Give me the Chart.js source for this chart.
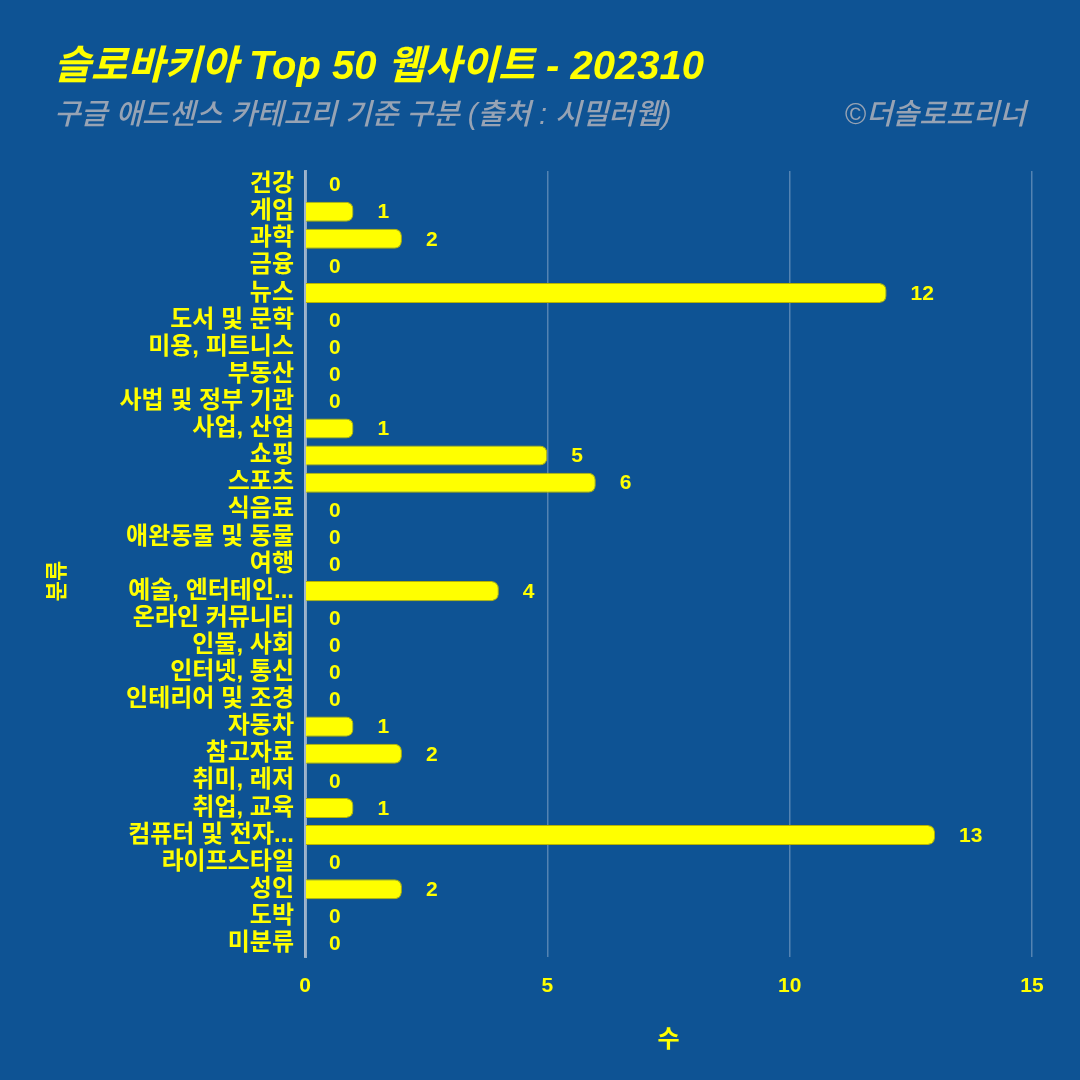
<!DOCTYPE html>
<html>
<head>
<meta charset="utf-8">
<script src="https://cdn.jsdelivr.net/npm/chart.js@4.4.1/dist/chart.umd.min.js"></script>
<style>
  html, body { margin: 0; padding: 0; background: #0e5394; }
  #wrap { width: 1080px; height: 1080px; }
</style>
</head>
<body>
<div id="wrap"><canvas id="c" width="1080" height="1080"></canvas></div>
<script>
const titleText = "슬로바키아 Top 50 웹사이트 - 202310";
const subtitleText = "구글 애드센스 카테고리 기준 구분 (출처 : 시밀러웹)";
const creditText = "©더솔로프리너";
const categories = ["건강","게임","과학","금융","뉴스","도서 및 문학","미용, 피트니스","부동산","사법 및 정부 기관","사업, 산업","쇼핑","스포츠","식음료","애완동물 및 동물","여행","예술, 엔터테인...","온라인 커뮤니티","인물, 사회","인터넷, 통신","인테리어 및 조경","자동차","참고자료","취미, 레저","취업, 교육","컴퓨터 및 전자...","라이프스타일","성인","도박","미분류"];
const counts = [0,1,2,0,12,0,0,0,0,1,5,6,0,0,0,4,0,0,0,0,1,2,0,1,13,0,2,0,0];
const xTicks = [0,5,10,15];
const xAxisTitle = "수";
const yAxisTitle = "분류";

const FONT = "'Liberation Sans', 'Noto Sans CJK KR', sans-serif";
const YELLOW = "#ffff00";
const BG = "#0e5394";

const headerPlugin = {
  id: 'header',
  beforeDraw(chart) {
    const ctx = chart.ctx;
    ctx.save();
    ctx.fillStyle = BG;
    ctx.fillRect(0, 0, chart.width, chart.height);
    ctx.textBaseline = 'middle';
    ctx.fillStyle = YELLOW;
    ctx.font = "italic bold 40px " + FONT;
    ctx.textAlign = 'left';
    ctx.fillText(titleText, 54, 68);
    ctx.fillStyle = "#97a3b4";
    ctx.font = "italic 500 29px " + FONT;
    ctx.fillText(subtitleText, 54, 116);
    ctx.textAlign = 'right';
    ctx.fillText(creditText, 1026, 116);
    // y axis title
    ctx.save();
    ctx.translate(58, 581);
    ctx.rotate(-Math.PI / 2);
    ctx.textAlign = 'center';
    ctx.fillStyle = YELLOW;
    ctx.font = "bold 22px " + FONT;
    ctx.fillText(yAxisTitle, 0, 0);
    ctx.restore();
    ctx.restore();
  }
};

const valueLabelPlugin = {
  id: 'valueLabels',
  afterDatasetsDraw(chart) {
    const ctx = chart.ctx;
    const meta = chart.getDatasetMeta(0);
    const xs = chart.scales.x;
    ctx.save();
    ctx.font = "bold 21px " + FONT;
    ctx.fillStyle = YELLOW;
    ctx.textAlign = 'left';
    ctx.textBaseline = 'middle';
    meta.data.forEach((bar, i) => {
      const v = counts[i];
      const x = xs.getPixelForValue(v);
      ctx.fillText(String(v), x + 24, bar.y + 1);
    });
    ctx.restore();
  }
};

new Chart(document.getElementById('c'), {
  type: 'bar',
  data: {
    labels: categories,
    datasets: [{
      data: counts,
      backgroundColor: YELLOW,
      borderColor: "#b8b400",
      borderWidth: 1,
      borderRadius: 7,
      borderSkipped: 'start',
      categoryPercentage: 1.0,
      barPercentage: 0.74
    }]
  },
  options: {
    indexAxis: 'y',
    responsive: false,
    animation: false,
    devicePixelRatio: 1,
    layout: { padding: { top: 171, left: 45, right: 48, bottom: 15 } },
    plugins: {
      legend: { display: false },
      tooltip: { enabled: false },
      title: { display: false }
    },
    scales: {
      x: {
        min: 0, max: 15,
        afterBuildTicks(scale) { scale.ticks = xTicks.map(v => ({ value: v })); },
        afterFit(scale) { scale.height = 108; },
        grid: { color: "rgba(170,190,215,0.45)", lineWidth: 1.5, drawTicks: false },
        border: { display: false },
        ticks: { color: YELLOW, font: { family: FONT, size: 21, weight: 'bold' }, padding: 17 },
        title: { display: true, text: xAxisTitle, color: YELLOW, font: { family: FONT, size: 24, weight: 'bold' }, padding: { top: 0, bottom: 10 } }
      },
      y: {
        afterFit(scale) { scale.width = 260; },
        grid: { display: false, drawTicks: false },
        border: { display: true, color: "rgba(190,200,215,0.75)", width: 3 },
        ticks: { color: YELLOW, font: { family: FONT, size: 24, weight: 'bold' }, padding: 11, autoSkip: false },
        title: { display: false }
      }
    }
  },
  plugins: [headerPlugin, valueLabelPlugin]
});
</script>
</body>
</html>
